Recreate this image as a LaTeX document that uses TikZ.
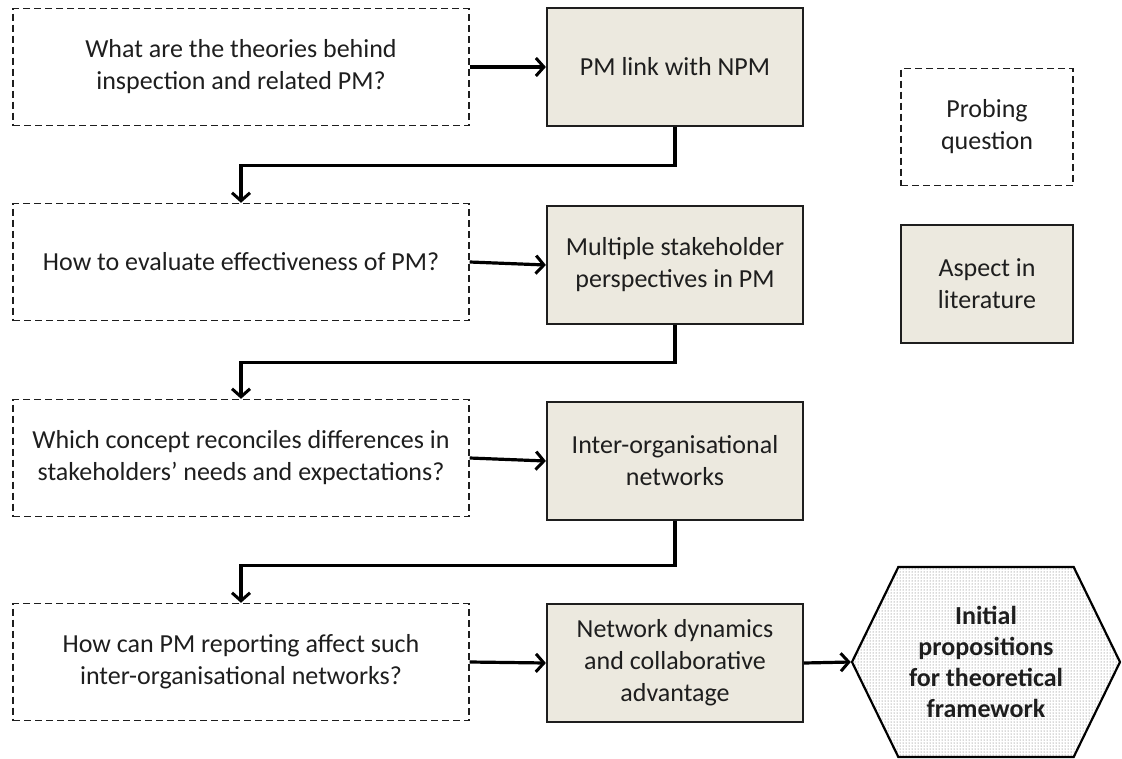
\documentclass[tikz,border=0pt]{standalone}
\usepackage{fontspec}
\setmainfont{Carlito}
\usetikzlibrary{arrows.meta,shapes.symbols,patterns}
\definecolor{aspectfill}{HTML}{ECE9DF}
\definecolor{ink}{HTML}{1E1E1E}
\begin{document}
\begin{tikzpicture}[x=1pt,y=-1pt,
  every node/.style={font=\fontsize{26}{32}\selectfont, text=ink, align=center, inner sep=4pt},
  qbox/.style={draw=ink, line width=1.4pt, dash pattern=on 7pt off 4pt,
    minimum width=456pt, minimum height=117pt},
  abox/.style={draw=ink, fill=aspectfill, line width=2.2pt,
    minimum width=256pt, minimum height=118pt},
  conn/.style={draw=black, line width=3.2pt, -{Straight Barb[length=8pt,width=18pt,line width=3pt]}}]
  \useasboundingbox (0,0) rectangle (1122,758);

  % probing questions (left column)
  \node[qbox] (q1) at (241,67)  {What are the theories behind\\inspection and related PM?};
  \node[qbox] (q2) at (241,262) {How to evaluate effectiveness of PM?};
  \node[qbox] (q3) at (241,458) {Which concept reconciles differences in\\stakeholders’ needs and expectations?};
  \node[qbox] (q4) at (241,662) {How can PM reporting affect such\\inter-organisational networks?};

  % aspects in literature (middle column)
  \node[abox] (a1) at (675,67)  {PM link with NPM};
  \node[abox] (a2) at (675,265) {Multiple stakeholder\\perspectives in PM};
  \node[abox] (a3) at (675,461) {Inter-organisational\\networks};
  \node[abox] (a4) at (675,663) {Network dynamics\\and collaborative\\advantage};

  % outcome
  \node[shape=signal, signal to=east and west, signal pointer angle=128,
    draw=black, line width=2.2pt, pattern=dots, pattern color=black!65,
    minimum width=268pt, minimum height=190pt, inner sep=0pt,
    font=\fontsize{26}{31}\selectfont\bfseries] (hex) at (986,662)
    {Initial\\propositions\\for theoretical\\framework};

  % legend
  \node[qbox, minimum width=172pt] (lq) at (987,127) {Probing\\question};
  \node[abox, minimum width=172pt] (la) at (987,284) {Aspect in\\literature};

  % horizontal links
  \draw[conn] (q1.east) -- (a1.west);
  \draw[conn] (q2.east) -- (a2.west);
  \draw[conn] (q3.east) -- (a3.west);
  \draw[conn] (q4.east) -- (a4.west);
  \draw[conn] (a4.east) -- (hex.west);

  % step-down links to the next question
  \draw[conn] (a1.south) -- ++(0,38) -| (q2.north);
  \draw[conn] (a2.south) -- ++(0,37) -| (q3.north);
  \draw[conn] (a3.south) -- ++(0,44) -| (q4.north);
\end{tikzpicture}
\end{document}
